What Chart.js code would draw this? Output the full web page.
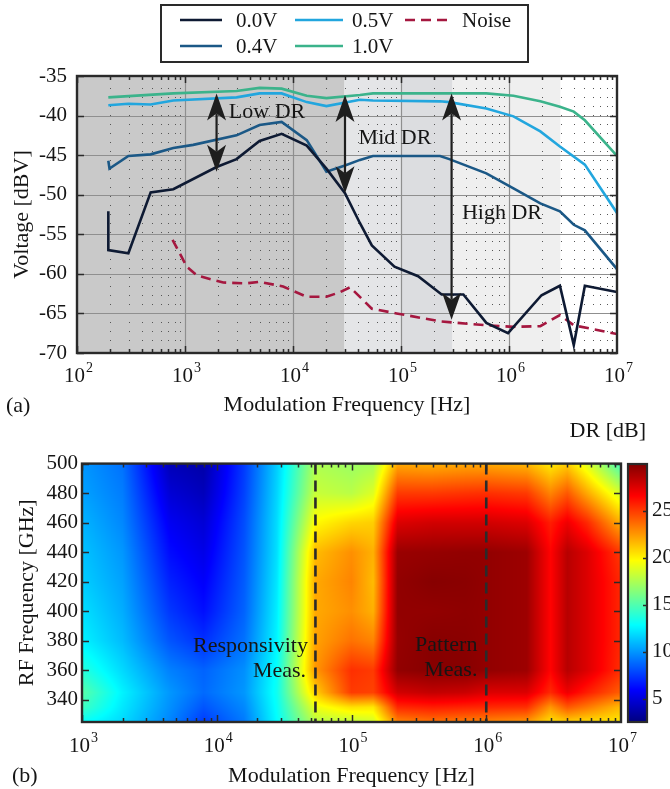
<!DOCTYPE html>
<html><head><meta charset="utf-8">
<script src="https://cdn.jsdelivr.net/npm/chart.js@4.4.1/dist/chart.umd.min.js"></script>
<style>
html,body{margin:0;padding:0;background:#fff;width:670px;height:789px;overflow:hidden}
#ca{position:absolute;left:0;top:0}
#cb{position:absolute;left:0;top:420px}
</style></head><body>
<canvas id="ca" width="670" height="420"></canvas>
<canvas id="cb" width="670" height="369"></canvas>
<script>
// ================= Panel (a) data =================
const xTickValsA = [1e2, 1e3, 1e4, 1e5, 1e6, 1e7];
const xTickBase = '10';
const xTickExpA = ['2', '3', '4', '5', '6', '7'];
const yTickValsA = [-70, -65, -60, -55, -50, -45, -40, -35];

const seriesNames = ['0.0V', '0.4V', '0.5V', '1.0V', 'Noise'];

const freq00 = [195, 195, 299, 481, 779, 1960, 3000, 4900, 7850, 13400, 20400, 30300, 41700, 53700, 87000, 144000, 238000, 378000, 617000, 980000, 2000000, 2960000, 3980000, 5040000, 10000000];
const volt00 = [-52.1, -57.0, -57.4, -49.7, -49.3, -46.5, -45.5, -43.2, -42.3, -43.8, -46.7, -49.8, -53.6, -56.4, -59.1, -60.3, -62.6, -62.6, -66.2, -67.5, -62.7, -61.5, -69.0, -61.5, -62.3];

const freq04 = [195, 200, 299, 481, 779, 1190, 3000, 4900, 7850, 13400, 20400, 30300, 41700, 55000, 230000, 280000, 617000, 1100000, 1950000, 2960000, 3980000, 5040000, 10000000];
const volt04 = [-45.7, -46.7, -45.1, -44.9, -44.1, -43.7, -42.5, -41.2, -40.8, -43.1, -47.1, -46.3, -45.6, -45.1, -45.1, -45.5, -47.3, -49.2, -51.1, -52.1, -53.8, -54.5, -59.4];

const freq05 = [195, 299, 481, 779, 3000, 4900, 7850, 13400, 20400, 41700, 55000, 230000, 280000, 617000, 1100000, 1950000, 2960000, 5040000, 10000000];
const volt05 = [-38.7, -38.5, -38.6, -38.1, -37.7, -37.2, -37.2, -38.3, -38.8, -38.0, -38.1, -38.2, -38.3, -39.1, -40.1, -42.0, -43.9, -46.2, -52.3];

const freq10 = [195, 779, 3000, 4900, 7850, 13400, 20400, 41700, 55000, 230000, 617000, 1100000, 1950000, 2960000, 3980000, 5040000, 10000000];
const volt10 = [-37.7, -37.2, -36.9, -36.5, -36.6, -37.5, -37.8, -37.4, -37.2, -37.2, -37.2, -37.5, -38.2, -38.9, -39.5, -40.6, -45.1];

const freqNoise = [767, 1040, 1290, 2260, 3720, 4900, 8100, 13400, 20400, 27400, 33800, 53700, 91000, 230000, 617000, 1100000, 1950000, 2960000, 3980000, 10000000];
const voltNoise = [-55.7, -59.1, -60.2, -61.1, -61.2, -61.0, -61.6, -62.9, -62.9, -62.3, -61.7, -64.4, -65.0, -66.0, -66.5, -66.7, -66.6, -65.2, -66.5, -67.6];

const bandEdges = [1e2, 3e4, 1e5, 3e5, 3e6, 1e7];

const arrowFreq = [1960, 30300, 294000];
const arrowTop = [-37.2, -37.4, -37.2];
const arrowBottom = [-47.1, -49.8, -65.8];
const arrowLabels = ['Low DR', 'Mid DR', 'High DR'];
const arrowLabelFreq = [5750, 87900, 861000];
const arrowLabelVolt = [-39.55, -42.8, -52.3];

// ================= Panel (b) data =================
const xTickValsB = [1e3, 1e4, 1e5, 1e6, 1e7];
const xTickExpB = ['3', '4', '5', '6', '7'];
const yTickValsB = [340, 360, 380, 400, 420, 440, 460, 480, 500];
const cbTicks = [5, 10, 15, 20, 25];
const cbMin = 2.5, cbMax = 30;

const hmFreq = [1e3, 2e3, 4.5e3, 8e3, 1.6e4, 2.8e4, 5.4e4, 1e5, 1.45e5, 2.2e5, 4e5, 7e5, 1e6, 2e6, 3e6, 4e6, 5.6e6, 1e7];
const hmRF = [500, 480, 460, 440, 420, 400, 380, 360, 345, 335, 325];
// DR [dB] per modulation frequency column, rows ordered as hmRF
const dr1k   = [10, 10.3, 10.8, 11.2, 11.5, 12, 12.5, 13.8, 15.2, 14.5, 13];
const dr2k   = [9, 9.3, 9.6, 10, 10.3, 10.6, 11, 11.8, 12.5, 12.2, 11.8];
const dr4k5  = [4, 4.8, 5.6, 6.2, 6.8, 7.4, 8.2, 9.4, 10, 9.8, 9.5];
const dr8k   = [3.6, 4.1, 4.8, 5.3, 5.8, 6.3, 7.2, 8.6, 8.8, 8.2, 7.5];
const dr16k  = [7.5, 7.7, 8, 8.2, 8.4, 8.6, 9, 9.8, 10, 9.6, 9.2];
const dr28k  = [11.5, 11.7, 11.9, 12, 12.2, 12.4, 12.6, 13, 13.2, 13, 12.8];
const dr54k  = [17.5, 18.2, 19.8, 21.5, 22, 22, 22.2, 22.5, 21, 19.2, 17.8];
const dr100k = [17, 17.8, 20.8, 22.7, 23, 22.7, 23.5, 25.3, 25, 20.5, 18];
const dr145k = [17.3, 18.8, 21, 21.8, 21.5, 21.8, 23, 25, 24.8, 20.3, 18.5];
const dr220k = [22, 25, 27.5, 29.3, 29.5, 29.5, 29.4, 29.5, 27.8, 25.5, 23];
const dr400k = [21.8, 25, 27.8, 29.4, 29.8, 29.5, 29.8, 29.8, 28.2, 25.8, 23.5];
const dr700k = [22, 25.2, 27.8, 29.5, 29.7, 29.6, 29.7, 29.8, 28, 25.6, 23.2];
const dr1M   = [22, 25.3, 27.8, 29.5, 29.5, 29.5, 29.5, 29.5, 27.5, 25.5, 23];
const dr2M   = [21.6, 25, 27.5, 29.2, 29.2, 29.2, 29.2, 29.2, 27.5, 25.3, 22.5];
const dr3M   = [20.2, 23, 25.8, 26.5, 26.5, 26.5, 26.5, 26.5, 25.5, 22.5, 20.5];
const dr4M   = [21, 24.2, 27, 28.5, 28.5, 28.5, 28.5, 28.5, 27, 24.2, 21];
const dr5M6  = [18.8, 22, 25.5, 27.5, 27.5, 27.5, 27.5, 27.5, 25.8, 23.3, 20.6];
const dr10M  = [14.5, 18.5, 21.8, 25, 25.5, 25.5, 25.5, 25.3, 24, 21.5, 20.3];
const drColumns = [dr1k, dr2k, dr4k5, dr8k, dr16k, dr28k, dr54k, dr100k, dr145k, dr220k, dr400k, dr700k, dr1M, dr2M, dr3M, dr4M, dr5M6, dr10M];

const measLines = [54000, 1e6];
const hmTexts = ['Responsivity', 'Meas.', 'Pattern', 'Meas.'];
const hmTextFreq = [47500, 46000, 860000, 860000];
const hmTextRF = [376, 359.5, 377, 360];

// ================= styling =================
const FONT = "'Liberation Serif','Times New Roman',serif";
const TXT = '#151515';
const FRAME = '#2a2a2a';
const lineColors = ['#0e1a33', '#1b5886', '#22a6de', '#3bb38b', '#a5173f'];
const bandColors = ['#c9c9c9', '#e4e5e7', '#dcdde0', '#efefef', '#ffffff'];

function pts(fx, vy) { return fx.map((f, i) => ({x: f, y: vy[i]})); }

function innerTicks(ctx, ca, xs, ys, yMajors, minorFrom, minorTo) {
  ctx.save();
  ctx.strokeStyle = FRAME; ctx.lineWidth = 1.5; ctx.setLineDash([]);
  ctx.beginPath();
  for (let k = minorFrom; k < minorTo; k++) {
    for (let m = 1; m <= 9; m++) {
      const v = m * Math.pow(10, k);
      const px = Math.round(xs.getPixelForValue(v)) + 0.5;
      const len = m === 1 ? 7 : 4;
      ctx.moveTo(px, ca.bottom); ctx.lineTo(px, ca.bottom - len);
      ctx.moveTo(px, ca.top); ctx.lineTo(px, ca.top + len);
    }
  }
  yMajors.forEach(v => {
    const py = Math.round(ys.getPixelForValue(v)) + 0.5;
    ctx.moveTo(ca.left, py); ctx.lineTo(ca.left + 7, py);
    ctx.moveTo(ca.right, py); ctx.lineTo(ca.right - 7, py);
  });
  ctx.stroke();
  ctx.lineWidth = 2.4;
  ctx.strokeRect(ca.left, ca.top, ca.right - ca.left, ca.bottom - ca.top);
  ctx.restore();
}

// decade labels "10" with raised exponent, placed through the x scale
function powLabels(ctx, xs, vals, exps, baseY) {
  ctx.save();
  ctx.fillStyle = TXT; ctx.textBaseline = 'alphabetic'; ctx.textAlign = 'left';
  vals.forEach((v, i) => {
    const px = xs.getPixelForValue(v);
    ctx.font = '21px ' + FONT; const wb = ctx.measureText(xTickBase).width;
    ctx.font = '14px ' + FONT; const we = ctx.measureText(exps[i]).width;
    const x0 = px - (wb + we) / 2 + 1;
    ctx.font = '21px ' + FONT; ctx.fillText(xTickBase, x0, baseY);
    ctx.font = '14px ' + FONT; ctx.fillText(exps[i], x0 + wb + 1, baseY - 10);
  });
  ctx.restore();
}

// ================= Panel (a) =================
const panelA = {
  id: 'panelA',
  beforeDatasetsDraw(chart) {
    const {ctx, chartArea: ca, scales: {x, y}} = chart;
    ctx.save();
    for (let i = 0; i < bandColors.length; i++) {
      const x0 = x.getPixelForValue(bandEdges[i]), x1 = x.getPixelForValue(bandEdges[i + 1]);
      ctx.fillStyle = bandColors[i];
      ctx.fillRect(x0, ca.top, x1 - x0, ca.bottom - ca.top);
    }
    ctx.strokeStyle = '#555555'; ctx.lineWidth = 1; ctx.setLineDash([1, 8]);
    ctx.beginPath();
    for (let k = 2; k < 7; k++) for (let m = 2; m <= 9; m++) {
      const px = Math.round(x.getPixelForValue(m * Math.pow(10, k))) + 0.5;
      ctx.moveTo(px, ca.top + 3); ctx.lineTo(px, ca.bottom);
    }
    ctx.stroke();
    ctx.setLineDash([]); ctx.strokeStyle = '#8f8f8f'; ctx.lineWidth = 1.2;
    ctx.beginPath();
    xTickValsA.slice(1, -1).forEach(v => {
      const px = Math.round(x.getPixelForValue(v)) + 0.5;
      ctx.moveTo(px, ca.top); ctx.lineTo(px, ca.bottom);
    });
    yTickValsA.slice(1, -1).forEach(v => {
      const py = Math.round(y.getPixelForValue(v)) + 0.5;
      ctx.moveTo(ca.left, py); ctx.lineTo(ca.right, py);
    });
    ctx.stroke();
    ctx.restore();
  },
  afterDatasetsDraw(chart) {
    const {ctx, chartArea: ca, scales: {x, y}} = chart;
    ctx.save();
    ctx.fillStyle = '#1e1e1e'; ctx.strokeStyle = '#1e1e1e'; ctx.lineWidth = 2.2;
    const hw = 9.5, hl = 27, notch = 7;
    arrowFreq.forEach((f, i) => {
      const px = x.getPixelForValue(f);
      const y0 = y.getPixelForValue(arrowTop[i]);
      const y1 = y.getPixelForValue(arrowBottom[i]);
      ctx.beginPath(); ctx.moveTo(px, y0 + hl - notch); ctx.lineTo(px, y1 - hl + notch); ctx.stroke();
      ctx.beginPath();
      ctx.moveTo(px, y0); ctx.lineTo(px - hw, y0 + hl); ctx.lineTo(px, y0 + hl - notch); ctx.lineTo(px + hw, y0 + hl); ctx.closePath(); ctx.fill();
      ctx.beginPath();
      ctx.moveTo(px, y1); ctx.lineTo(px - hw, y1 - hl); ctx.lineTo(px, y1 - hl + notch); ctx.lineTo(px + hw, y1 - hl); ctx.closePath(); ctx.fill();
    });
    ctx.fillStyle = TXT; ctx.font = '22px ' + FONT; ctx.textAlign = 'center'; ctx.textBaseline = 'middle';
    arrowLabels.forEach((t, i) => {
      ctx.fillText(t, x.getPixelForValue(arrowLabelFreq[i]), y.getPixelForValue(arrowLabelVolt[i]));
    });
    ctx.restore();
    innerTicks(ctx, ca, x, y, yTickValsA, 2, 7);
  },
  afterDraw(chart) {
    const {ctx, chartArea: ca, scales: {x}} = chart;
    const ds = chart.data.datasets;
    powLabels(ctx, x, xTickValsA, xTickExpA, ca.bottom + 29);
    ctx.save();
    ctx.fillStyle = '#ffffff'; ctx.fillRect(161, 5, 367, 57);
    ctx.strokeStyle = '#2a2a2a'; ctx.lineWidth = 2; ctx.strokeRect(161, 5, 367, 57);
    const slots = [
      {d: 0, x0: 180, x1: 222, tx: 236, y: 20},
      {d: 2, x0: 295, x1: 343, tx: 352, y: 20},
      {d: 4, x0: 405, x1: 450, tx: 462, y: 20},
      {d: 1, x0: 180, x1: 222, tx: 236, y: 46},
      {d: 3, x0: 295, x1: 343, tx: 352, y: 46}
    ];
    ctx.font = '21px ' + FONT; ctx.textBaseline = 'middle'; ctx.textAlign = 'left';
    slots.forEach(s => {
      const d = ds[s.d];
      ctx.strokeStyle = d.borderColor; ctx.lineWidth = 2.6; ctx.setLineDash(d.borderDash || []);
      ctx.beginPath(); ctx.moveTo(s.x0, s.y); ctx.lineTo(s.x1, s.y); ctx.stroke();
      ctx.setLineDash([]);
      ctx.fillStyle = TXT; ctx.fillText(d.label, s.tx, s.y + 1);
    });
    ctx.font = '22px ' + FONT; ctx.fillText('(a)', 6, 406);
    ctx.restore();
  }
};

new Chart(document.getElementById('ca'), {
  type: 'line',
  data: {
    datasets: [
      {label: seriesNames[0], data: pts(freq00, volt00), borderColor: lineColors[0]},
      {label: seriesNames[1], data: pts(freq04, volt04), borderColor: lineColors[1]},
      {label: seriesNames[2], data: pts(freq05, volt05), borderColor: lineColors[2]},
      {label: seriesNames[3], data: pts(freq10, volt10), borderColor: lineColors[3]},
      {label: seriesNames[4], data: pts(freqNoise, voltNoise), borderColor: lineColors[4], borderDash: [10, 6]}
    ].map(d => Object.assign({borderWidth: 2.6, pointRadius: 0, fill: false, tension: 0}, d))
  },
  options: {
    responsive: false, animation: false,
    layout: {padding: {top: 76, right: 53, left: 0, bottom: 0}},
    plugins: {legend: {display: false}, tooltip: {enabled: false}},
    scales: {
      x: {
        type: 'logarithmic', min: 1e2, max: 1e7,
        afterBuildTicks: s => { s.ticks = xTickValsA.map(v => ({value: v})); },
        ticks: {display: false},
        grid: {display: false, drawTicks: false}, border: {display: false},
        title: {display: true, text: 'Modulation Frequency [Hz]', color: TXT, font: {family: FONT, size: 22}, padding: {top: 0, bottom: 2}},
        afterFit: s => { s.height = 67; }
      },
      y: {
        min: -70, max: -35,
        afterBuildTicks: s => { s.ticks = yTickValsA.map(v => ({value: v})); },
        ticks: {padding: 10, color: TXT, font: {family: FONT, size: 21}, callback: v => String(v)},
        grid: {display: false, drawTicks: false}, border: {display: false},
        title: {display: true, text: 'Voltage [dBV]', color: TXT, font: {family: FONT, size: 22}, padding: {top: 9, bottom: 0}},
        afterFit: s => { s.width = 77; }
      }
    }
  },
  plugins: [panelA]
});

// ================= Panel (b) =================
function jet(v) {
  let t = (v - cbMin) / (cbMax - cbMin);
  t = Math.max(0, Math.min(1, t));
  const c = q => Math.max(0, Math.min(1, q));
  return [c(1.5 - Math.abs(4 * t - 3)), c(1.5 - Math.abs(4 * t - 2)), c(1.5 - Math.abs(4 * t - 1))];
}
const hmLogF = hmFreq.map(f => Math.log10(f));
function drAt(lf, rf) {
  let i = 0; while (i < hmLogF.length - 2 && lf > hmLogF[i + 1]) i++;
  let tx = (lf - hmLogF[i]) / (hmLogF[i + 1] - hmLogF[i]); tx = Math.max(0, Math.min(1, tx));
  let j = 0; while (j < hmRF.length - 2 && rf < hmRF[j + 1]) j++;
  let ty = (hmRF[j] - rf) / (hmRF[j] - hmRF[j + 1]); ty = Math.max(0, Math.min(1, ty));
  const a = drColumns[i][j], b = drColumns[i + 1][j], c = drColumns[i][j + 1], d = drColumns[i + 1][j + 1];
  return a * (1 - tx) * (1 - ty) + b * tx * (1 - ty) + c * (1 - tx) * ty + d * tx * ty;
}

const panelB = {
  id: 'panelB',
  beforeDatasetsDraw(chart) {
    const {ctx, chartArea: ca, scales: {x, y}} = chart;
    const L = Math.round(ca.left), T = Math.round(ca.top);
    const W = Math.round(ca.right) - L, H = Math.round(ca.bottom) - T;
    const off = document.createElement('canvas'); off.width = W; off.height = H;
    const octx = off.getContext('2d');
    const img = octx.createImageData(W, H);
    const lfs = [], rfs = [];
    for (let i = 0; i < W; i++) lfs.push(Math.log10(x.getValueForPixel(L + i + 0.5)));
    for (let j = 0; j < H; j++) rfs.push(y.getValueForPixel(T + j + 0.5));
    for (let j = 0; j < H; j++) for (let i = 0; i < W; i++) {
      const col = jet(drAt(lfs[i], rfs[j]));
      const k = (j * W + i) * 4;
      img.data[k] = col[0] * 255; img.data[k + 1] = col[1] * 255; img.data[k + 2] = col[2] * 255; img.data[k + 3] = 255;
    }
    octx.putImageData(img, 0, 0);
    ctx.drawImage(off, L, T);
  },
  afterDatasetsDraw(chart) {
    const {ctx, chartArea: ca, scales: {x, y, cb}} = chart;
    ctx.save();
    ctx.strokeStyle = '#2b2b2b'; ctx.lineWidth = 2.6; ctx.setLineDash([11, 6]);
    measLines.forEach(f => {
      const px = x.getPixelForValue(f);
      ctx.beginPath(); ctx.moveTo(px, ca.top); ctx.lineTo(px, ca.bottom); ctx.stroke();
    });
    ctx.setLineDash([]);
    ctx.fillStyle = TXT; ctx.font = '22px ' + FONT; ctx.textAlign = 'right'; ctx.textBaseline = 'middle';
    hmTexts.forEach((t, i) => ctx.fillText(t, x.getPixelForValue(hmTextFreq[i]), y.getPixelForValue(hmTextRF[i])));
    ctx.restore();
    innerTicks(ctx, ca, x, y, yTickValsB, 3, 7);
    powLabels(ctx, x, xTickValsB, xTickExpB, ca.bottom + 30);
    ctx.save();
    const cx = 628, cw = 19;
    const yTop = Math.round(cb.getPixelForValue(cbMax)), yBot = Math.round(cb.getPixelForValue(cbMin));
    for (let py = yTop; py < yBot; py++) {
      const c = jet(cb.getValueForPixel(py + 0.5));
      ctx.fillStyle = 'rgb(' + Math.round(c[0] * 255) + ',' + Math.round(c[1] * 255) + ',' + Math.round(c[2] * 255) + ')';
      ctx.fillRect(cx, py, cw, 1);
    }
    ctx.strokeStyle = '#2b2b2b'; ctx.lineWidth = 1.5;
    ctx.beginPath();
    cbTicks.forEach(v => {
      const py = Math.round(cb.getPixelForValue(v)) + 0.5;
      ctx.moveTo(cx + cw, py); ctx.lineTo(cx + cw - 4, py);
    });
    ctx.stroke();
    ctx.lineWidth = 2.2; ctx.strokeRect(cx, yTop, cw, yBot - yTop);
    ctx.fillStyle = TXT; ctx.font = '22px ' + FONT; ctx.textAlign = 'right'; ctx.textBaseline = 'middle';
    ctx.fillText('DR [dB]', 646, 11);
    ctx.textAlign = 'left';
    ctx.fillText('(b)', 12, 356);
    ctx.restore();
  }
};

new Chart(document.getElementById('cb'), {
  type: 'scatter',
  data: {datasets: [{label: 'DR grid', data: hmFreq.flatMap((f, i) => hmRF.map((r, j) => ({x: f, y: r, v: drColumns[i][j]}))), pointRadius: 0, showLine: false}]},
  options: {
    responsive: false, animation: false,
    layout: {padding: {top: 27, right: 0, left: 0, bottom: 0}},
    plugins: {legend: {display: false}, tooltip: {enabled: false}},
    scales: {
      x: {
        type: 'logarithmic', min: 1e3, max: 1e7,
        afterBuildTicks: s => { s.ticks = xTickValsB.map(v => ({value: v})); },
        ticks: {display: false},
        grid: {display: false, drawTicks: false}, border: {display: false},
        title: {display: true, text: 'Modulation Frequency [Hz]', color: TXT, font: {family: FONT, size: 22}, padding: {top: 0, bottom: 0}},
        afterFit: s => { s.height = 67; }
      },
      y: {
        min: 325, max: 500,
        afterBuildTicks: s => { s.ticks = yTickValsB.map(v => ({value: v})); },
        ticks: {padding: 4, color: TXT, font: {family: FONT, size: 21}, callback: v => String(v)},
        grid: {display: false, drawTicks: false}, border: {display: false},
        title: {display: true, text: 'RF Frequency [GHz]', color: TXT, font: {family: FONT, size: 22}, padding: {top: 14, bottom: 0}},
        afterFit: s => { s.width = 82; }
      },
      cb: {
        type: 'linear', position: 'right', min: cbMin, max: cbMax,
        afterBuildTicks: s => { s.ticks = cbTicks.map(v => ({value: v})); },
        ticks: {padding: 31, color: TXT, font: {family: FONT, size: 21}, callback: v => String(v)},
        grid: {display: false, drawTicks: false}, border: {display: false},
        afterFit: s => { s.width = 49; }
      }
    }
  },
  plugins: [panelB]
});
</script></body></html>
